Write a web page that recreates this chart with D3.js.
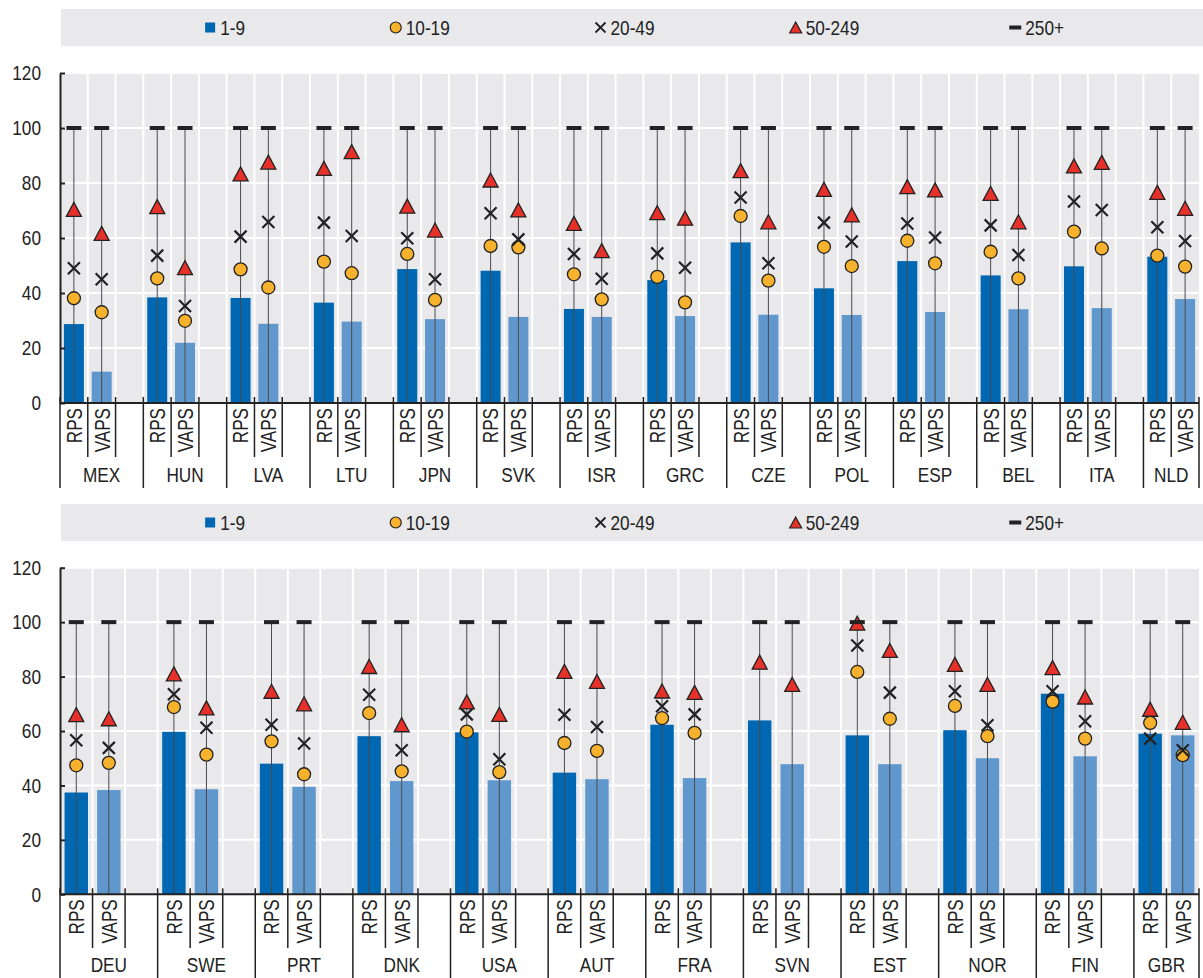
<!DOCTYPE html>
<html lang="en">
<head>
<meta charset="utf-8">
<title>Share of firms by size class: RPS and VAPS</title>
<style>
  body {
    margin: 0;
    background-color: white;
  }
  svg text {
    font-family: "Liberation Sans", Arial, Helvetica, sans-serif;
    fill: #222;
  }
  .ylabels .tick text { font-size: 21px; }
  .ylabels .tick line { stroke: #222; stroke-width: 2; }
  .ylabels path.domain { stroke: #222; stroke-width: 2; }
  .grid line { stroke: white; stroke-width: 2; }
  .slotlabel { font-size: 22.5px; }
  .countrylabel { font-size: 21px; }
  .legend text { font-size: 21px; }
</style>
</head>
<body>
<svg id="chart" width="1203" height="978"></svg>

<script src="https://cdn.jsdelivr.net/npm/d3@7"></script>
<script>

// ---- data (pairs: RPS, VAPS for each country) ----
var seriesNames = ["1-9", "10-19", "20-49", "50-249", "250+"];
var slotTypes = ["RPS", "VAPS"];
var yTicks = [0, 20, 40, 60, 80, 100, 120];

var topCountries = ["MEX", "HUN", "LVA", "LTU", "JPN", "SVK", "ISR", "GRC", "CZE", "POL", "ESP", "BEL", "ITA", "NLD"];
var top_1_9 = [28.7, 11.4, 38.4, 21.9, 38.2, 28.8, 36.5, 29.6, 48.7, 30.5, 48.1, 31.3, 34.2, 31.3,
               44.7, 31.6, 58.4, 32.1, 41.7, 32.0, 51.6, 33.1, 46.4, 34.1, 49.7, 34.5, 53.2, 37.8];
var top_10_19 = [38.1, 33.0, 45.3, 29.9, 48.6, 42.0, 51.4, 47.2, 54.2, 37.5, 57.1, 56.6, 46.8, 37.7,
                 45.9, 36.6, 68.0, 44.5, 56.8, 49.8, 59.0, 50.8, 55.0, 45.3, 62.3, 56.2, 53.6, 49.6];
var top_20_49 = [49.0, 45.0, 53.6, 35.3, 60.5, 65.8, 65.6, 60.7, 59.9, 45.0, 69.0, 59.5, 54.2, 45.2,
                 54.4, 49.2, 74.7, 50.8, 65.6, 58.7, 65.3, 60.2, 64.6, 53.8, 73.3, 70.2, 63.9, 58.9];
var top_50_249 = [70.4, 61.7, 71.4, 49.2, 83.3, 87.6, 85.3, 91.4, 71.6, 62.9, 81.1, 70.2, 65.3, 55.4,
                  69.2, 67.2, 84.5, 65.9, 77.7, 68.4, 78.7, 77.5, 76.2, 65.9, 86.2, 87.5, 76.6, 70.8];
var top_250 = [100, 100, 100, 100, 100, 100, 100, 100, 100, 100, 100, 100, 100, 100,
               100, 100, 100, 100, 100, 100, 100, 100, 100, 100, 100, 100, 100, 100];

var botCountries = ["DEU", "SWE", "PRT", "DNK", "USA", "AUT", "FRA", "SVN", "EST", "NOR", "FIN", "GBR"];
var bot_1_9 = [37.4, 38.3, 59.7, 38.6, 48.0, 39.5, 58.1, 41.6, 59.5, 41.9, 44.7, 42.3,
               62.3, 42.7, 63.9, 47.8, 58.4, 47.8, 60.3, 50.0, 73.7, 50.7, 59.0, 58.4];
var bot_10_19 = [47.4, 48.3, 68.8, 51.3, 56.2, 44.1, 66.6, 45.2, 59.8, 44.9, 55.6, 52.7,
                 64.7, 59.3, null, null, 81.7, 64.5, 69.2, 58.1, 70.8, 57.2, 63.0, 51.1];
var bot_20_49 = [56.6, 53.8, 73.5, 61.2, 62.3, 55.4, 73.3, 52.9, 66.1, 49.6, 66.0, 61.5,
                 69.1, 66.1, null, null, 91.4, 74.1, 74.6, 62.1, 74.6, 63.6, 57.2, 52.9];
var bot_50_249 = [66.0, 64.5, 81.0, 68.5, 74.6, 70.0, 83.7, 62.3, 70.7, 66.1, 81.9, 78.2,
                  74.7, 74.2, 85.3, 77.1, 99.6, 89.6, 84.5, 77.1, 83.3, 72.5, 68.0, 63.2];
var bot_250 = [100, 100, 100, 100, 100, 100, 100, 100, 100, 100, 100, 100,
               100, 100, 100, 100, 100, 100, 100, 100, 100, 100, 100, 100];

// ---- style ----
var darkBlue = "#0068b2";
var lightBlue = "#6098ce";
var panelGrey = "#e9e9ec";
var orange = "#f7b22d";
var red = "#e5312a";
var ink = "#222";
var narrow = 0.82;   // condensed look of the original font
var slotNarrow = 0.76;

var svg = d3.select("#chart");

var left = 60, right = 1199;

function drawPanel(p) {

  var g = svg.append("g");

  // slots: RPS, VAPS, empty gap (no gap after the last country)
  var slots = [];
  p.countries.forEach(function(c, i) {
    slots.push(c + "|RPS", c + "|VAPS");
    if (i < p.countries.length - 1) slots.push(c + "|gap");
  });

  var x = d3.scaleBand().domain(slots).range([left, right]);
  var y = d3.scaleLinear().domain([0, 120]).range([p.plotBottom, p.plotTop]);
  var bw = x.bandwidth();

  var rows = [];
  p.countries.forEach(function(c, i) {
    slotTypes.forEach(function(t, j) {
      var k = i * 2 + j;
      rows.push({
        country: c, type: t, key: c + "|" + t,
        s1: p.s1[k], s2: p.s2[k], s3: p.s3[k], s4: p.s4[k], s5: p.s5[k]
      });
    });
  });

  function cx(d) { return x(d.key) + bw / 2; }

  // legend band
  var leg = g.append("g").attr("class", "legend");
  leg.append("rect")
    .attr("x", 61).attr("y", p.legendTop)
    .attr("width", 1203 - 61).attr("height", p.legendBottom - p.legendTop)
    .attr("fill", panelGrey);

  var legX = d3.scalePoint().domain(seriesNames).range([245, 1064]);
  var legY = (p.legendTop + p.legendBottom) / 2;

  seriesNames.forEach(function(s, i) {
    var t = leg.append("text")
      .attr("transform", "translate(" + legX(s) + "," + legY + ") scale(" + narrow + ",1)")
      .attr("dy", "0.35em")
      .style("text-anchor", "end")
      .text(s);
    var sx = legX(s) - t.node().getComputedTextLength() * narrow - 10;
    if (i === 0) {
      leg.append("rect").attr("x", sx - 5).attr("y", legY - 5)
        .attr("width", 10).attr("height", 10).attr("fill", darkBlue);
    } else if (i === 1) {
      leg.append("circle").attr("cx", sx).attr("cy", legY).attr("r", 5.5)
        .attr("fill", orange).attr("stroke", ink).attr("stroke-width", 1.2);
    } else if (i === 2) {
      leg.append("path").attr("d", crossPath(sx, legY, 5))
        .attr("stroke", ink).attr("stroke-width", 1.8).attr("fill", "none");
    } else if (i === 3) {
      leg.append("path").attr("d", triPath(sx, legY, 12, 11))
        .attr("fill", red).attr("stroke", ink).attr("stroke-width", 1.2);
    } else {
      leg.append("rect").attr("x", sx - 6).attr("y", legY - 2)
        .attr("width", 12).attr("height", 4).attr("fill", ink);
    }
  });

  // plot background
  g.append("rect")
    .attr("x", left).attr("y", p.plotTop)
    .attr("width", right - left).attr("height", p.plotBottom - p.plotTop)
    .attr("fill", panelGrey);

  // grid
  var grid = g.append("g").attr("class", "grid");
  grid.selectAll("line.h")
    .data(yTicks.filter(function(d) { return d > 0; }))
    .enter().append("line")
    .attr("x1", left).attr("x2", right)
    .attr("y1", function(d) { return y(d); })
    .attr("y2", function(d) { return y(d); });

  var bounds = slots.map(function(s) { return x(s); }).slice(1);
  grid.selectAll("line.v")
    .data(bounds)
    .enter().append("line")
    .attr("x1", function(d) { return d; }).attr("x2", function(d) { return d; })
    .attr("y1", p.plotTop).attr("y2", p.plotBottom);

  // bars (1-9)
  g.selectAll("rect.bar")
    .data(rows)
    .enter().append("rect")
    .attr("class", "bar")
    .attr("x", function(d) { return cx(d) - bw * 0.36; })
    .attr("width", bw * 0.72)
    .attr("y", function(d) { return y(d.s1); })
    .attr("height", function(d) { return y(0) - y(d.s1); })
    .attr("fill", function(d) { return d.type === "RPS" ? darkBlue : lightBlue; });

  // range line
  g.selectAll("line.range")
    .data(rows)
    .enter().append("line")
    .attr("x1", cx).attr("x2", cx)
    .attr("y1", y(0))
    .attr("y2", function(d) { return y(d.s5); })
    .attr("stroke", "#4a4a4a").attr("stroke-width", 1);

  // 10-19
  g.selectAll("circle.m2")
    .data(rows.filter(function(d) { return d.s2 != null; }))
    .enter().append("circle")
    .attr("cx", cx).attr("cy", function(d) { return y(d.s2); })
    .attr("r", 6.5)
    .attr("fill", orange).attr("stroke", ink).attr("stroke-width", 1.3);

  // 20-49
  g.selectAll("path.m3")
    .data(rows.filter(function(d) { return d.s3 != null; }))
    .enter().append("path")
    .attr("d", function(d) { return crossPath(cx(d), y(d.s3), 6); })
    .attr("stroke", ink).attr("stroke-width", 2.2).attr("fill", "none");

  // 50-249
  g.selectAll("path.m4")
    .data(rows.filter(function(d) { return d.s4 != null; }))
    .enter().append("path")
    .attr("d", function(d) { return triPath(cx(d), y(d.s4), 15, 14); })
    .attr("fill", red).attr("stroke", ink).attr("stroke-width", 1.3);

  // 250+
  g.selectAll("rect.m5")
    .data(rows)
    .enter().append("rect")
    .attr("x", function(d) { return cx(d) - 7.5; })
    .attr("y", function(d) { return y(d.s5) - 2; })
    .attr("width", 15).attr("height", 4)
    .attr("fill", ink);

  // y axis
  var yAxis = g.append("g")
    .attr("class", "ylabels")
    .attr("transform", "translate(" + left + ",0)")
    .call(d3.axisLeft(y).tickValues(yTicks).tickSize(-5).tickSizeOuter(0).tickPadding(19));
  yAxis.selectAll(".tick text")
    .attr("x", 0)
    .attr("transform", "translate(-19,0) scale(" + narrow + ",1)");

  // x axis line
  g.append("line")
    .attr("x1", left).attr("x2", right)
    .attr("y1", y(0)).attr("y2", y(0))
    .attr("stroke", ink).attr("stroke-width", 2);

  // slot ticks: long at country edges, short between slots
  var allBounds = slots.map(function(s) { return x(s); }).concat([right]);
  var startSet = p.countries.map(function(c) { return x(c + "|RPS"); });
  g.selectAll("line.xtick")
    .data(allBounds)
    .enter().append("line")
    .attr("x1", function(d) { return d; }).attr("x2", function(d) { return d; })
    .attr("y1", y(0) - 6)
    .attr("y2", function(d, i) {
      return (startSet.indexOf(d) >= 0 || i === allBounds.length - 1) ? p.longTick : p.shortTick;
    })
    .attr("stroke", ink).attr("stroke-width", 1.5);

  // RPS / VAPS labels
  g.selectAll("text.slotlabel")
    .data(rows)
    .enter().append("text")
    .attr("class", "slotlabel")
    .attr("transform", function(d) {
      return "translate(" + cx(d) + "," + (y(0) + 5) + ") rotate(-90) scale(" + slotNarrow + ",1)";
    })
    .attr("dy", "0.35em")
    .style("text-anchor", "end")
    .text(function(d) { return d.type; });

  // country labels
  g.selectAll("text.countrylabel")
    .data(p.countries)
    .enter().append("text")
    .attr("class", "countrylabel")
    .attr("transform", function(c, i) {
      var a = x(c + "|RPS");
      var b = (i < p.countries.length - 1) ? x(c + "|gap") + bw : right;
      return "translate(" + ((a + b) / 2) + "," + p.countryY + ") scale(" + narrow + ",1)";
    })
    .style("text-anchor", "middle")
    .text(function(c) { return c; });
}

function crossPath(x0, y0, r) {
  return "M" + (x0 - r) + "," + (y0 - r) + "L" + (x0 + r) + "," + (y0 + r) +
         "M" + (x0 - r) + "," + (y0 + r) + "L" + (x0 + r) + "," + (y0 - r);
}

function triPath(x0, y0, w, h) {
  return "M" + x0 + "," + (y0 - h / 2) + "L" + (x0 + w / 2) + "," + (y0 + h / 2) +
         "L" + (x0 - w / 2) + "," + (y0 + h / 2) + "Z";
}

drawPanel({
  countries: topCountries,
  s1: top_1_9, s2: top_10_19, s3: top_20_49, s4: top_50_249, s5: top_250,
  legendTop: 9, legendBottom: 46,
  plotTop: 73, plotBottom: 403,
  shortTick: 457, longTick: 488, countryY: 482
});

drawPanel({
  countries: botCountries,
  s1: bot_1_9, s2: bot_10_19, s3: bot_20_49, s4: bot_50_249, s5: bot_250,
  legendTop: 504, legendBottom: 541,
  plotTop: 567.7, plotBottom: 894.3,
  shortTick: 948, longTick: 978, countryY: 972
});

</script>
</body>
</html>
